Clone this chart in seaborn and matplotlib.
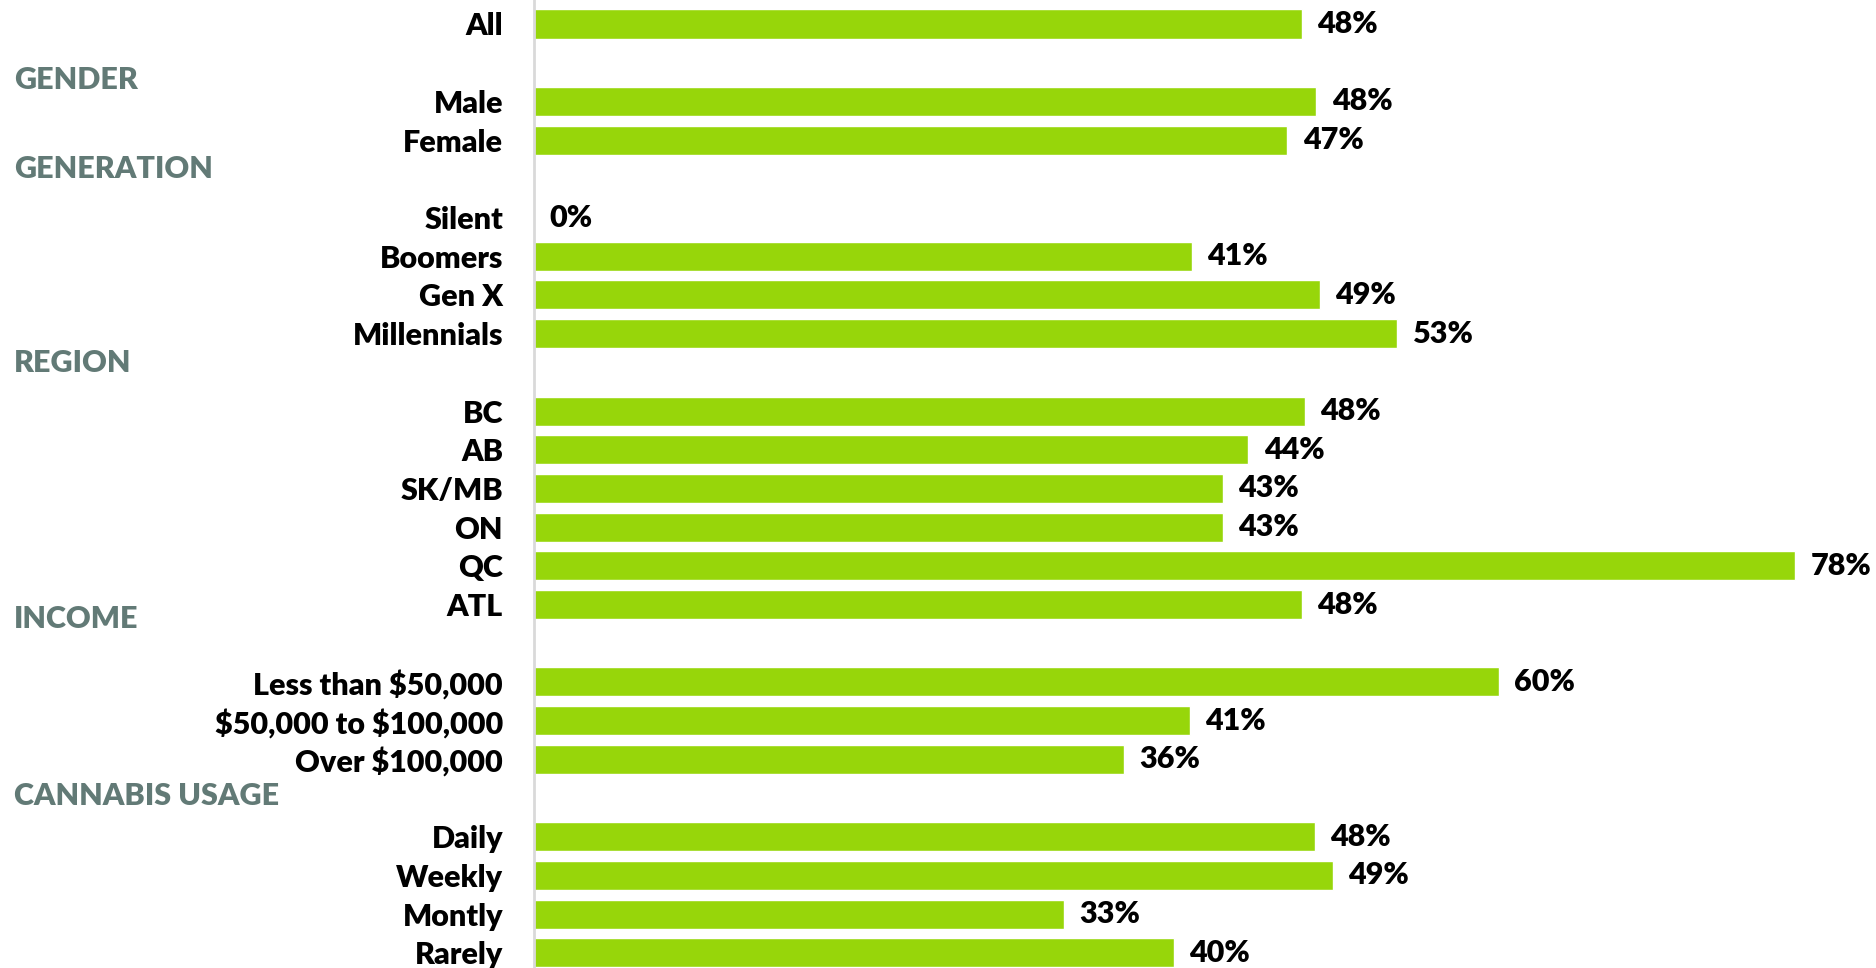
import pandas as pd
import numpy as np
import matplotlib
matplotlib.use("Agg")
import matplotlib.pyplot as plt
import seaborn as sns

# rows top to bottom, "" = empty slot used for a section heading
labels = ["All", "", "Male", "Female", "", "Silent", "Boomers", "Gen X", "Millennials", "",
          "BC", "AB", "SK/MB", "ON", "QC", "ATL", "",
          "Less than \\$50,000", "\\$50,000 to \\$100,000", "Over \\$100,000", "",
          "Daily", "Weekly", "Montly", "Rarely"]
values = [47.5, np.nan, 48.4, 46.6, np.nan, 0.0, 40.7, 48.6, 53.4, np.nan,
          47.7, 44.2, 42.6, 42.6, 78.0, 47.5, np.nan,
          59.7, 40.6, 36.5, np.nan,
          48.3, 49.4, 32.8, 39.6]
sections = ["GENDER", "GENERATION", "REGION", "INCOME", "CANNABIS USAGE"]
section_rows = [1.45, 3.74, 8.75, 15.37, 19.95]

green = "#97d60a"
head_col = "#627a76"

df = pd.DataFrame({"row": [f"r{i}" for i in range(len(labels))],
                   "label": labels, "value": values})

sns.set_theme(style="white")
plt.rcParams["font.family"] = ["Lato", "DejaVu Sans"]

fig = plt.figure(figsize=(18.76, 9.68), dpi=100)
ax = fig.add_axes([533.6 / 1876, 0, 1 - 533.6 / 1876, 1])

sns.barplot(data=df, x="value", y="row", order=list(df["row"]), orient="h",
            color=green, saturation=1, width=0.75, ax=ax, errorbar=None)

ax.set_xlim(0, 83)
ax.set_ylim(24.39, -0.62)
ax.set_xlabel("")
ax.set_ylabel("")
ax.set_xticks([])
ax.set_yticks(range(len(labels)))
ax.set_yticklabels(labels, fontsize=22, fontweight="heavy", color="black")
ax.tick_params(axis="y", length=0, pad=22)

for s in ["top", "right", "bottom"]:
    ax.spines[s].set_visible(False)
ax.spines["left"].set_color("#d9d9d9")
ax.spines["left"].set_linewidth(2)

# value labels
for i, v in enumerate(values):
    if np.isnan(v):
        continue
    ax.annotate(f"{v:.0f}%", xy=(v, i), xytext=(11, 0), textcoords="offset points",
                va="center", ha="left", fontsize=22, fontweight="heavy", color="black")

# section headings on the far left
for name, r in zip(sections, section_rows):
    fig.text(14 / 1876, 1 - (24 + r * 38.7) / 968, name, ha="left", va="center",
             fontsize=22, fontweight="heavy", color=head_col)

fig.savefig("out.png", dpi=100)
